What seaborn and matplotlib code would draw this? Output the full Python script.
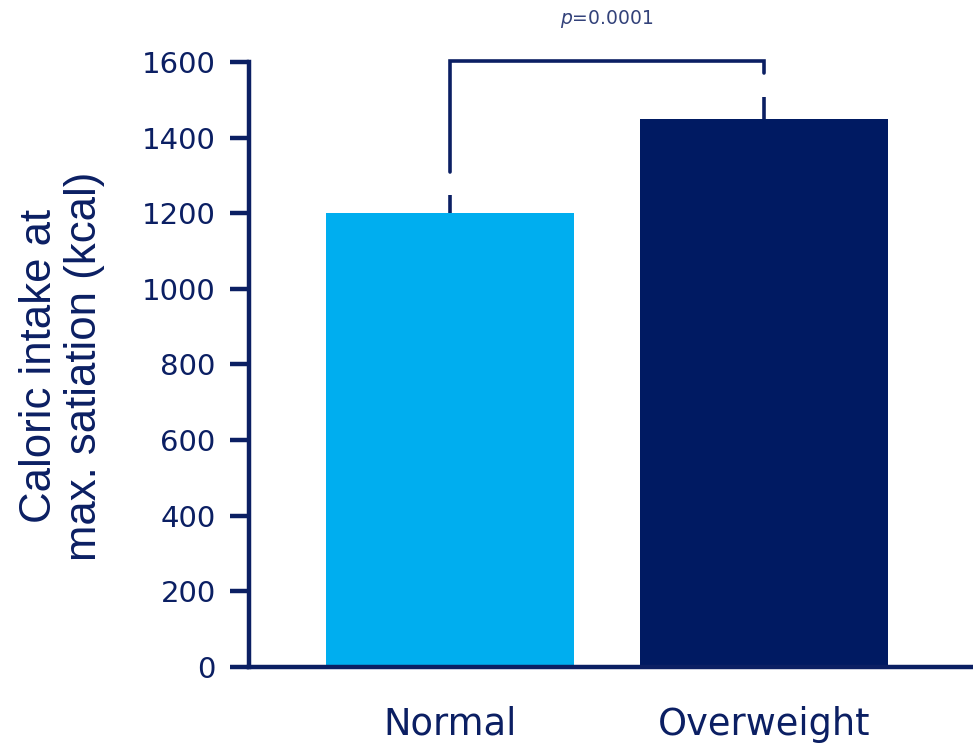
import matplotlib
matplotlib.use("Agg")
import matplotlib.pyplot as plt
import seaborn as sns

# Caloric intake at maximal satiation by weight group
groups = ["Normal", "Overweight"]
kcal = [1200, 1450]
kcal_err = [48, 58]          # upper error bar length
bar_colors = ["#00AEEF", "#001A62"]

# significance bracket
bracket_top = 1603
bracket_leg_bottom = [1309, 1571]
p_label = "0.0001"
p_label_y = 1714

y_ticks = [0, 200, 400, 600, 800, 1000, 1200, 1400, 1600]

ink = "#0B1F63"

sns.set_theme(style="white")
plt.rcParams["font.family"] = ["DejaVu Sans"]

fig = plt.figure(figsize=(9.73, 7.47), dpi=100)
ax = fig.add_axes([0.2559, 0.1071, 0.744, 0.8099])

sns.barplot(x=groups, y=kcal, hue=groups, palette=bar_colors, width=0.787,
            saturation=1, linewidth=0, legend=False, ax=ax)

# one-sided error bars
xs = list(range(len(groups)))
ax.vlines(xs, kcal, [v + e for v, e in zip(kcal, kcal_err)],
          color=ink, lw=2.6, clip_on=False)

# bracket joining the two groups
ax.plot([xs[0], xs[0], xs[1], xs[1]],
        [bracket_leg_bottom[0], bracket_top, bracket_top, bracket_leg_bottom[1]],
        color=ink, lw=2.6, clip_on=False, solid_joinstyle="miter")
ax.text((xs[0] + xs[1]) / 2, p_label_y, r"$p$=" + p_label, ha="center", va="center",
        fontsize=13.5, color="#33427A")

ax.set_xlim(-0.640, 1.665)
ax.set_ylim(0, 1600)
ax.set_yticks(y_ticks)
ax.set_yticklabels([str(t) for t in y_ticks])

for side in ("top", "right"):
    ax.spines[side].set_visible(False)
for side in ("left", "bottom"):
    ax.spines[side].set_color(ink)
    ax.spines[side].set_linewidth(3.2)

ax.tick_params(axis="y", direction="out", length=14, width=3.2, color=ink,
               labelsize=21, labelcolor=ink, pad=10, left=True)
ax.tick_params(axis="x", length=0, labelsize=26.5, labelcolor=ink, pad=28)

ax.set_xlabel("")
ax.set_ylabel("Caloric intake at\nmax. satiation (kcal)", fontsize=31.5,
              family=["Liberation Sans", "DejaVu Sans"], color=ink,
              linespacing=1.12, va="center", ha="center")
ax.yaxis.set_label_coords(-0.258, 0.497)

fig.savefig("out.png", dpi=100)
